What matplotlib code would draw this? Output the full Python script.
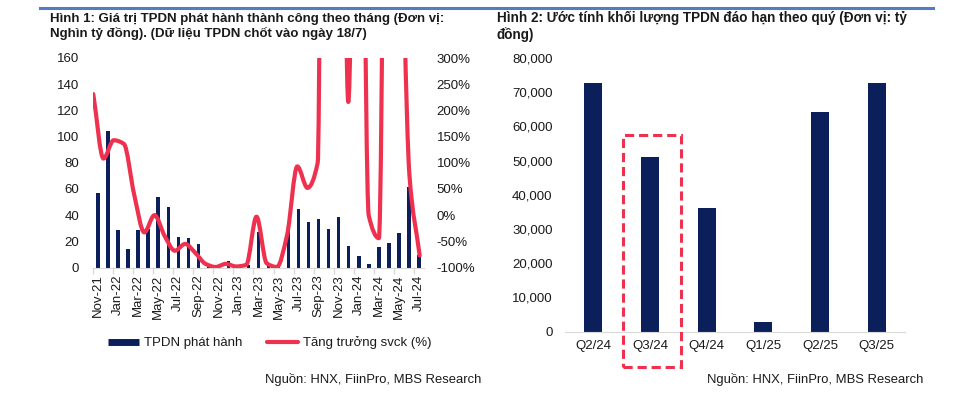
import numpy as np
import matplotlib
matplotlib.use("Agg")
import matplotlib.pyplot as plt
from matplotlib.path import Path
from matplotlib.patches import PathPatch, Rectangle
from matplotlib.lines import Line2D
from matplotlib.ticker import FuncFormatter, FixedLocator

plt.rcParams['font.family'] = ['Liberation Sans', 'DejaVu Sans']

# --- data: monthly issuance (nghin ty dong) and yoy growth (%) ---
months = ['Nov-21', 'Dec-21', 'Jan-22', 'Feb-22', 'Mar-22', 'Apr-22', 'May-22', 'Jun-22',
          'Jul-22', 'Aug-22', 'Sep-22', 'Oct-22', 'Nov-22', 'Dec-22', 'Jan-23', 'Feb-23',
          'Mar-23', 'Apr-23', 'May-23', 'Jun-23', 'Jul-23', 'Aug-23', 'Sep-23', 'Oct-23',
          'Nov-23', 'Dec-23', 'Jan-24', 'Feb-24', 'Mar-24', 'Apr-24', 'May-24', 'Jun-24',
          'Jul-24']
tpdn = [57, 104.5, 29, 14, 28.5, 29.5, 54, 46, 23.5, 22.5, 18, 0.3, 0.3, 5, 0.5, 1.8,
        26.8, 1, 0.5, 32, 44.5, 34.5, 36.8, 29.2, 38.8, 16.5, 8.6, 2.3, 15.7, 19, 26.7,
        61.5, 9.4]
yoy = [231, 108, 143, 136, 40, -33, 0, -40, -68, -55, -72, -93, -99, -93, -98, -95,
       -3, -92, -99, -38, 93, 52, 100, 3000, 2000, 216, 1300, 0, -44, 1500, 800,
       75, -77]

# --- data: quarterly maturity (ty dong) ---
quarters = ['Q2/24', 'Q3/24', 'Q4/24', 'Q1/25', 'Q2/25', 'Q3/25']
maturity = [72700, 51200, 36100, 2700, 64200, 72700]

NAVY = '#0b1f5a'
RED = '#ef3150'
GREY = '#d9d9d9'
TXT = '#1a1a1a'


def smooth_path(x, y):
    # monotone cubic (pchip-like) bezier through the data points
    x = np.asarray(x, float)
    y = np.asarray(y, float)
    h = np.diff(x)
    d = np.diff(y) / h
    m = np.zeros_like(y)
    for k in range(1, len(y) - 1):
        if d[k - 1] * d[k] > 0:
            w1 = 2 * h[k] + h[k - 1]
            w2 = h[k] + 2 * h[k - 1]
            m[k] = (w1 + w2) / (w1 / d[k - 1] + w2 / d[k])
    m[0] = d[0]
    m[-1] = d[-1]
    verts = [(x[0], y[0])]
    codes = [Path.MOVETO]
    for k in range(len(y) - 1):
        verts += [(x[k] + h[k] / 3, y[k] + m[k] * h[k] / 3),
                  (x[k + 1] - h[k] / 3, y[k + 1] - m[k + 1] * h[k] / 3),
                  (x[k + 1], y[k + 1])]
        codes += [Path.CURVE4] * 3
    return Path(verts, codes)


fig = plt.figure(figsize=(9.66, 4.01), dpi=100)

# top blue rule
fig.add_artist(Line2D([40 / 966, 933 / 966], [1 - 8 / 401, 1 - 8 / 401],
                      color='#4f7fbf', lw=2.2, transform=fig.transFigure))

# ---------------- chart 1 ----------------
ax1 = fig.add_axes([93 / 966, 1 - 267.5 / 401, 331 / 966, 209.5 / 401])
xb = np.arange(len(months))
ax1.bar(xb, tpdn, width=0.34, color=NAVY, zorder=2)
ax1.set_xlim(-0.5, len(months) - 0.5)
ax1.set_ylim(0, 160)
ax1.set_yticks(range(0, 161, 20))
ax1.set_xticks(xb[::2])
ax1.set_xticklabels(months[::2], rotation=90, fontsize=9.5, color=TXT)
ax1.xaxis.set_minor_locator(FixedLocator(np.arange(-0.5, len(months), 2)))
ax1.tick_params(axis='x', which='major', length=0, pad=5)
ax1.tick_params(axis='x', which='minor', length=4, color=GREY, width=1)
ax1.tick_params(axis='y', length=0, labelsize=9.5, labelcolor=TXT, pad=10)
for s in ['top', 'right', 'left']:
    ax1.spines[s].set_visible(False)
ax1.spines['bottom'].set_color(GREY)

ax1b = ax1.twinx()
ax1b.set_ylim(-100, 300)
ax1b.set_yticks(range(-100, 301, 50))
ax1b.yaxis.set_major_formatter(FuncFormatter(lambda v, p: f'{v:.0f}%'))
ax1b.tick_params(axis='y', length=0, labelsize=9.5, labelcolor=TXT, pad=9)
for s in ['top', 'right', 'left', 'bottom']:
    ax1b.spines[s].set_visible(False)
line_x = np.linspace(-0.47, 32.07, len(yoy))
ax1b.add_patch(PathPatch(smooth_path(line_x, yoy), fill=False, edgecolor=RED,
                         lw=3, capstyle='round', joinstyle='round', zorder=3))

handles = [Line2D([], [], color=NAVY, lw=5, solid_capstyle='butt'),
           Line2D([], [], color=RED, lw=3, solid_capstyle='round')]
fig.legend(handles, ['TPDN phát hành', 'Tăng trưởng svck (%)'], ncol=2,
           frameon=False, loc='center', bbox_to_anchor=(270 / 966, 1 - 343 / 401),
           fontsize=9.5, handlelength=2.3, columnspacing=1.9, handletextpad=0.4,
           labelcolor=TXT)

fig.text(50 / 966, 1 - 26.5 / 401,
         'Hình 1: Giá trị TPDN phát hành thành công theo tháng (Đơn vị:\n'
         'Nghìn tỷ đồng). (Dữ liệu TPDN chốt vào ngày 18/7)',
         fontsize=9.5, fontweight='bold', color=TXT, va='center', ha='left',
         linespacing=1.22)
fig.text(481 / 966, 1 - 380 / 401, 'Nguồn: HNX, FiinPro, MBS Research',
         fontsize=9.4, color=TXT, ha='right', va='center')

# ---------------- chart 2 ----------------
ax2 = fig.add_axes([565 / 966, 1 - 331.7 / 401, 340 / 966, 273.7 / 401])
xq = np.arange(len(quarters))
ax2.bar(xq, maturity, width=0.32, color=NAVY, zorder=2)
ax2.set_xlim(-0.5, len(quarters) - 0.5)
ax2.set_ylim(0, 80000)
ax2.set_yticks(range(0, 80001, 10000))
ax2.yaxis.set_major_formatter(FuncFormatter(lambda v, p: f'{v:,.0f}'))
ax2.set_xticks(xq)
ax2.set_xticklabels(quarters)
ax2.tick_params(axis='x', length=0, labelsize=9.5, labelcolor=TXT, pad=6)
ax2.tick_params(axis='y', length=0, labelsize=9.5, labelcolor=TXT, pad=9)
for s in ['top', 'right', 'left']:
    ax2.spines[s].set_visible(False)
ax2.spines['bottom'].set_color(GREY)

# highlight box around Q3/24
ax2.add_patch(Rectangle((0.52, -10300), 1.02, 67800, fill=False, edgecolor=RED,
                        lw=2.2, linestyle=(0, (3, 1.6)), clip_on=False, zorder=4))

fig.text(497 / 966, 1 - 26.5 / 401,
         'Hình 2: Ước tính khối lượng TPDN đáo hạn theo quý (Đơn vị: tỷ\n'
         'đồng)',
         fontsize=9.75, fontweight='bold', color=TXT, va='center', ha='left',
         linespacing=1.2)
fig.text(923 / 966, 1 - 380 / 401, 'Nguồn: HNX, FiinPro, MBS Research',
         fontsize=9.4, color=TXT, ha='right', va='center')

fig.savefig('out.png', dpi=100)
